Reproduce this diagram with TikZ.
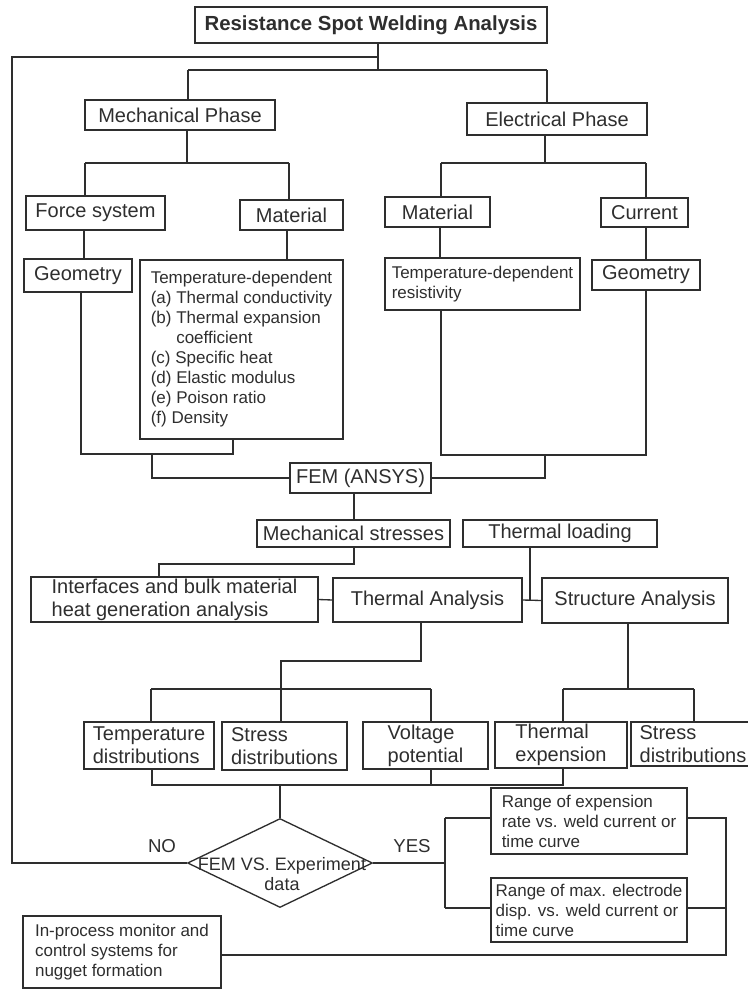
\documentclass[tikz,border=0pt]{standalone}
\usepackage{fontspec}
\setmainfont{Liberation Sans}
\usetikzlibrary{shapes.geometric}
\definecolor{ink}{gray}{0.18}
\tikzset{
  box/.style={draw=ink, line width=1pt, inner sep=0pt, text=ink, align=left,
              font=\fontsize{15}{17.25}\selectfont},
  small/.style={font=\fontsize{12.75}{15}\selectfont},
  sz/.style 2 args={minimum width=#1*0.75pt, minimum height=#2*0.75pt},
  wire/.style={draw=ink, line width=1pt},
  lbl/.style={text=ink, inner sep=0pt, font=\fontsize{14}{16}\selectfont}
}
\begin{document}
\begin{tikzpicture}[x=0.75pt,y=-0.75pt]
\useasboundingbox (0,0) rectangle (748,989);
\clip (0,0) rectangle (748,989);

% ---------- nodes ----------
\node[box, sz={352}{36}, font=\fontsize{15.3}{17}\selectfont\bfseries] (title) at (371,25) {Resistance Spot Welding Analysis};
\node[box, sz={190}{30}] (mech) at (180,115) {Mechanical Phase};
\node[box, sz={180}{32}] (elec) at (557,119) {Electrical Phase};
\node[box, sz={139}{34}] (force) at (95.5,213) {Force system};
\node[box, sz={103}{30}] (matm) at (291.5,215) {Material};
\node[box, sz={105}{30}] (mate) at (437.5,212) {Material};
\node[box, sz={87}{29}] (curr) at (644.5,212.5) {Current};
\node[box, sz={108}{33}] (geoL) at (78,275.5) {Geometry};
\node[box, small, sz={203}{179}] (tempL) at (241.5,349.5) {Temperature-dependent\\(a) Thermal conductivity\\(b) Thermal expansion\\\phantom{(b) }coefficient\\(c) Specific heat\\(d) Elastic modulus\\(e) Poison ratio\\(f) Density};
\node[box, small, sz={195}{52}] (resist) at (482.5,284) {Temperature-dependent\\resistivity};
\node[box, sz={108}{30}] (geoR) at (646,275) {Geometry};
\node[box, sz={141}{30}] (fem) at (360.5,478) {FEM (ANSYS)};
\node[box, sz={193}{27}] (mstress) at (353.5,533.5) {Mechanical stresses};
\node[box, sz={194}{27}] (tload) at (560,533.5) {Thermal loading};
\node[box, sz={287}{45}] (iface) at (174.5,599.5) {Interfaces and bulk material\\heat generation analysis};
\node[box, sz={189}{44}] (therm) at (427.5,600) {Thermal Analysis};
\node[box, sz={186}{45}] (struct) at (635,600.5) {Structure Analysis};
\node[box, sz={130}{47}] (tdist) at (149,745.5) {Temperature\\distributions};
\node[box, sz={125}{48}] (sdist) at (284.5,746) {Stress\\distributions};
\node[box, sz={125}{47}] (volt) at (425.5,745.5) {Voltage\\potential};
\node[box, sz={132}{46}] (texp) at (561,745) {Thermal\\expension};
\node[box, sz={124}{44}] (sdist2) at (693,744) {Stress\\distributions};
\node[draw=ink, line width=1pt, diamond, inner sep=0pt, minimum width=185*0.75pt, minimum height=89*0.75pt] (dia) at (280,863) {};
\node[text=ink, inner sep=0pt, align=center, font=\fontsize{13.5}{15.5}\selectfont] (dtxt) at (282,874) {FEM VS. Experiment\\data};
\node[lbl] (no) at (162,846) {NO};
\node[lbl] (yes) at (412,846) {YES};
\node[box, small, sz={196}{66}] (r1) at (589,821) {Range of expension\\rate vs. weld current or\\time curve};
\node[box, small, sz={196}{64}] (r2) at (589,910) {Range of max. electrode\\disp. vs. weld current or\\time curve};
\node[box, small, sz={198}{72}] (inproc) at (122,952) {In-process monitor and\\control systems for\\nugget formation};

% ---------- junction coordinates ----------
\coordinate (t1) at (378,57);
\coordinate (t2) at (378,70);
\coordinate (jA) at (188,70);
\coordinate (jB) at (547,70);
\coordinate (jC) at (187,163);
\coordinate (jD) at (85,163);
\coordinate (jE) at (289,163);
\coordinate (jF) at (545,163);
\coordinate (jG) at (441,163);
\coordinate (jH) at (646,163);
\coordinate (k1) at (84,240);
\coordinate (k2) at (287,240);
\coordinate (k3) at (440,240);
\coordinate (k4) at (646,240);
\coordinate (m1) at (81,454);
\coordinate (m2) at (233,454);
\coordinate (m3) at (152,454);
\coordinate (e1) at (441,455);
\coordinate (e2) at (646,455);
\coordinate (e3) at (545,455);
\coordinate (c1) at (354,500);
\coordinate (n1) at (354,564);
\coordinate (n2) at (159,564);
\coordinate (p1) at (530,600);
\coordinate (q1) at (421,661);
\coordinate (q2) at (281,661);
\coordinate (q3) at (151,689);
\coordinate (q4) at (431,689);
\coordinate (s1) at (628,689);
\coordinate (s2) at (563,689);
\coordinate (s3) at (694,689);
\coordinate (u1) at (152,785);
\coordinate (u2) at (563,785);
\coordinate (u3) at (431,785);
\coordinate (u4) at (280,785);
\coordinate (v1) at (445,818);
\coordinate (v2) at (445,908);
\coordinate (w1) at (726,818);
\coordinate (w2) at (726,908);
\coordinate (w3) at (726,955);

% ---------- connectors ----------
\draw[wire] (t2 |- title.south) -- (t2);
\draw[wire] (t1) -- (12,57) |- (dia.west);
\draw[wire] (jA) -- (jB);
\draw[wire] (jA) -- (jA |- mech.north);
\draw[wire] (jB) -- (jB |- elec.north);

\draw[wire] (jC |- mech.south) -- (jC);
\draw[wire] (jD) -- (jE);
\draw[wire] (jD) -- (jD |- force.north);
\draw[wire] (jE) -- (jE |- matm.north);
\draw[wire] (jF |- elec.south) -- (jF);
\draw[wire] (jG) -- (jH);
\draw[wire] (jG) -- (jG |- mate.north);
\draw[wire] (jH) -- (jH |- curr.north);

\draw[wire] (k1 |- force.south) -- (k1 |- geoL.north);
\draw[wire] (k2 |- matm.south) -- (k2 |- tempL.north);
\draw[wire] (k3 |- mate.south) -- (k3 |- resist.north);
\draw[wire] (k4 |- curr.south) -- (k4 |- geoR.north);

\draw[wire] (m1 |- geoL.south) -- (m1) -- (m2) -- (m2 |- tempL.south);
\draw[wire] (m3) |- (fem.west);
\draw[wire] (e1 |- resist.south) -- (e1) -- (e2) -- (e2 |- geoR.south);
\draw[wire] (e3) |- (fem.east);

\draw[wire] (c1 |- fem.south) -- (c1 |- mstress.north);
\draw[wire] (n1 |- mstress.south) -- (n1) -- (n2) -- (n2 |- iface.north);
\draw[wire] (iface.east) -- (therm.west);
\draw[wire] (therm.east) -- (struct.west);
\draw[wire] (p1 |- tload.south) -- (p1);

\draw[wire] (q1 |- therm.south) -- (q1) -- (q2) -- (q2 |- sdist.north);
\draw[wire] (q3) -- (q4);
\draw[wire] (q3) -- (q3 |- tdist.north);
\draw[wire] (q4) -- (q4 |- volt.north);
\draw[wire] (s1 |- struct.south) -- (s1);
\draw[wire] (s2) -- (s3);
\draw[wire] (s2) -- (s2 |- texp.north);
\draw[wire] (s3) -- (s3 |- sdist2.north);

\draw[wire] (u1 |- tdist.south) -- (u1) -- (u2) -- (u2 |- texp.south);
\draw[wire] (u3 |- volt.south) -- (u3);
\draw[wire] (u4) -- (dia.north);

\draw[wire] (dia.east) -- (dia.east -| v1);
\draw[wire] (v1) -- (v2);
\draw[wire] (v1) -- (v1 -| r1.west);
\draw[wire] (v2) -- (v2 -| r2.west);
\draw[wire] (w1 -| r1.east) -- (w1) -- (w3) -- (w3 -| inproc.east);
\draw[wire] (w2 -| r2.east) -- (w2);
\end{tikzpicture}
\end{document}
